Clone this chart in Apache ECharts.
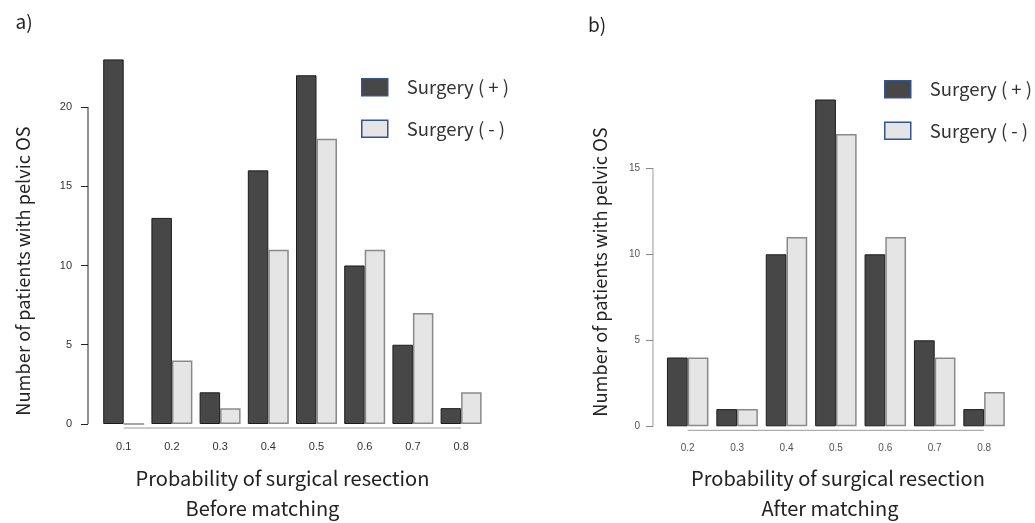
<!DOCTYPE html>
<html>
<head>
<meta charset="utf-8">
<script src="https://cdn.jsdelivr.net/npm/echarts@6/dist/echarts.min.js"></script>
<style>html,body{margin:0;padding:0;background:#fff;}#c{width:1035px;height:523px;}</style>
</head>
<body>
<div id="c"></div>
<script>
// ---- data ----
const catsA = ['0.1','0.2','0.3','0.4','0.5','0.6','0.7','0.8'];
const surgPlusA = [23, 13, 2, 16, 22, 10, 5, 1];
const surgMinusA = [0, 4, 1, 11, 18, 11, 7, 2];
const catsB = ['0.2','0.3','0.4','0.5','0.6','0.7','0.8'];
const surgPlusB = [4, 1, 10, 19, 10, 5, 1];
const surgMinusB = [4, 1, 11, 17, 11, 4, 2];
const yTicksA = [0, 5, 10, 15, 20];
const yTicksB = [0, 5, 10, 15];
const legendNames = ['Surgery ( + )', 'Surgery ( - )'];

const JP = '"Noto Sans CJK JP", "Noto Sans", sans-serif';
const AR = '"Liberation Sans", Arial, sans-serif';

// layout
const gA = {left: 99.6, top: 59.4, width: 385.6, height: 364.6};
const gB = {left: 663, top: 99.5, width: 345.8, height: 326.8};
const yOffA = 11.6, yOffB = 10, xOffA = 4, xOffB = 4;

const chart = echarts.init(document.getElementById('c'), null, {renderer: 'canvas'});

const darkStyle = {color: '#474747', borderColor: '#1c1c1c', borderWidth: 1};
const lightStyle = {color: '#e5e5e5', borderColor: '#8a8a8a', borderWidth: 1.5};

function legendCfg(left, top) {
  return {
    orient: 'vertical', left: left, top: top, padding: 0,
    itemWidth: 26, itemHeight: 17, itemGap: 23,
    icon: 'rect',
    data: legendNames,
    itemStyle: {borderColor: '#2f5597', borderWidth: 1.5},
    textStyle: {fontFamily: JP, fontSize: 18.5, lineHeight: 17, color: '#333', padding: [0, 0, 0, 14]},
    selectedMode: false
  };
}

const option = {
  animation: false,
  backgroundColor: '#fff',
  grid: [
    {left: gA.left, top: gA.top, width: gA.width, height: gA.height},
    {left: gB.left, top: gB.top, width: gB.width, height: gB.height}
  ],
  legend: [legendCfg(361, 78), legendCfg(884, 80)],
  xAxis: [
    {type: 'category', gridIndex: 0, data: catsA, offset: xOffA,
     axisLine: {show: false},
     axisTick: {alignWithLabel: true, length: 7, lineStyle: {color: '#444'}},
     axisLabel: {fontFamily: AR, fontSize: 11, color: '#333', margin: 13}},
    {type: 'category', gridIndex: 1, data: catsB, offset: xOffB,
     axisLine: {show: false},
     axisTick: {alignWithLabel: true, length: 7, lineStyle: {color: '#888'}},
     axisLabel: {fontFamily: AR, fontSize: 10, color: '#555', margin: 13}}
  ],
  yAxis: [
    {type: 'value', gridIndex: 0, min: 0, max: 23, offset: yOffA,
     axisLine: {show: false}, splitLine: {show: false},
     axisTick: {show: true, length: 7, customValues: yTicksA, lineStyle: {color: '#222'}},
     axisLabel: {customValues: yTicksA, fontFamily: AR, fontSize: 11, color: '#333', margin: 16}},
    {type: 'value', gridIndex: 1, min: 0, max: 19, offset: yOffB,
     axisLine: {show: false}, splitLine: {show: false},
     axisTick: {show: true, length: 7, customValues: yTicksB, lineStyle: {color: '#888'}},
     axisLabel: {customValues: yTicksB, fontFamily: AR, fontSize: 10, color: '#555', margin: 13}}
  ],
  series: [
    {name: legendNames[0], type: 'bar', xAxisIndex: 0, yAxisIndex: 0, data: surgPlusA,
     barGap: '0%', barCategoryGap: '15%', itemStyle: darkStyle},
    {name: legendNames[1], type: 'bar', xAxisIndex: 0, yAxisIndex: 0, data: surgMinusA,
     barGap: '0%', barCategoryGap: '15%', itemStyle: lightStyle},
    {name: legendNames[0], type: 'bar', xAxisIndex: 1, yAxisIndex: 1, data: surgPlusB,
     barGap: '0%', barCategoryGap: '16%', itemStyle: darkStyle},
    {name: legendNames[1], type: 'bar', xAxisIndex: 1, yAxisIndex: 1, data: surgMinusB,
     barGap: '0%', barCategoryGap: '16%', itemStyle: lightStyle}
  ]
};
chart.setOption(option);

// R-style axis lines (span tick range only), computed via the chart's scales
function axisLines(gi, g, cats, yTicks, yOff, xOff, yColor, xColor) {
  const first = chart.convertToPixel({gridIndex: gi}, [0, 0]);
  const last = chart.convertToPixel({gridIndex: gi}, [cats.length - 1, 0]);
  const yTop = chart.convertToPixel({gridIndex: gi}, [0, yTicks[yTicks.length - 1]])[1];
  const xAx = g.left - yOff;
  const yAx = first[1] + xOff;
  return [
    {type: 'line', shape: {x1: xAx, y1: first[1], x2: xAx, y2: yTop},
     style: {stroke: yColor, lineWidth: 1}},
    {type: 'line', shape: {x1: first[0], y1: yAx, x2: last[0], y2: yAx},
     style: {stroke: xColor, lineWidth: 1}}
  ];
}

function txt(x, y, text, size, opts) {
  return Object.assign({type: 'text', x: x, y: y,
    style: {text: text, fontFamily: JP, fontSize: size, fill: '#222',
      textAlign: 'center', textVerticalAlign: 'middle'}}, opts || {});
}

const graphics = []
  .concat(axisLines(0, gA, catsA, yTicksA, yOffA, xOffA, '#222', '#999'))
  .concat(axisLines(1, gB, catsB, yTicksB, yOffB, xOffB, '#999', '#999'))
  .concat([
    txt(24, 22, 'a)', 19),
    txt(597, 25, 'b)', 19),
    txt(282.5, 478, 'Probability of surgical resection', 20),
    txt(262.5, 508, 'Before matching', 20),
    txt(838, 478, 'Probability of surgical resection', 20),
    txt(830, 508, 'After matching', 20),
    txt(23, 271, 'Number of patients with pelvic OS', 18.3, {rotation: Math.PI / 2}),
    txt(600, 272, 'Number of patients with pelvic OS', 18.3, {rotation: Math.PI / 2})
  ]);
chart.setOption({graphic: graphics});
</script>
</body>
</html>
